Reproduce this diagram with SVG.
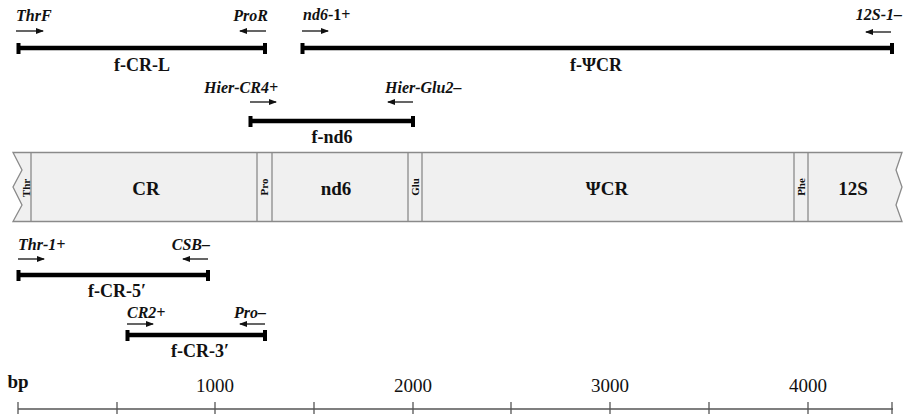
<svg xmlns="http://www.w3.org/2000/svg" width="903" height="414" viewBox="0 0 903 414">
<defs>
<marker id="ah" markerUnits="userSpaceOnUse" markerWidth="8" markerHeight="6" refX="7" refY="3" orient="auto">
<path d="M0,0 L8,3 L0,6 z" fill="#111"/>
</marker>
<style>
.bar{stroke:#000;stroke-width:4.5;fill:none}
.cap{fill:#000}
.arr{stroke:#111;stroke-width:1.3;fill:none;marker-end:url(#ah)}
.pr{font-family:"Liberation Serif",serif;font-weight:bold;font-style:italic;font-size:16px;fill:#111}
.up{font-style:normal}
.fr{font-family:"Liberation Serif",serif;font-weight:bold;font-size:18px;fill:#111;text-anchor:middle}
.bl{font-family:"Liberation Serif",serif;font-weight:bold;font-size:19px;fill:#111;text-anchor:middle}
.sm{font-family:"Liberation Serif",serif;font-weight:bold;font-size:11px;fill:#111;text-anchor:middle}
.num{font-family:"Liberation Serif",serif;font-size:19px;fill:#111;text-anchor:middle}
.band{fill:#f0f0f0;stroke:#8a8a8a;stroke-width:1.3}
.div{stroke:#8a8a8a;stroke-width:1.3}
.ax{stroke:#555;stroke-width:1.3}
</style>
</defs>
<g id="connectors">
<line class="arr" x1="16" y1="31" x2="43" y2="31"/>
<line class="arr" x1="266" y1="31" x2="240" y2="31"/>
<line class="arr" x1="302" y1="31" x2="328" y2="31"/>
<line class="arr" x1="891" y1="32" x2="866" y2="32"/>
<line class="arr" x1="250" y1="102" x2="276" y2="102"/>
<line class="arr" x1="413" y1="102" x2="388" y2="102"/>
<line class="arr" x1="18" y1="259" x2="44" y2="259"/>
<line class="arr" x1="208" y1="259" x2="183" y2="259"/>
<line class="arr" x1="127" y1="324" x2="153" y2="324"/>
<line class="arr" x1="265" y1="324" x2="240" y2="324"/>
</g>
<g id="f-CR-L">
<text class="pr" x="16" y="21">ThrF</text>
<text class="pr" x="268" y="21" text-anchor="end">ProR</text>
<line class="bar" x1="18" y1="48" x2="265" y2="48"/>
<rect class="cap" x="16.5" y="43" width="4" height="11"/>
<rect class="cap" x="263" y="43" width="4" height="11"/>
<text class="fr" x="142" y="71">f-CR-L</text>
</g>
<g id="f-PsiCR">
<text class="pr" x="303" y="20">nd6<tspan class="up">-1+</tspan></text>
<text class="pr" x="902" y="20" text-anchor="end">12S-1–</text>
<line class="bar" x1="302" y1="48" x2="892" y2="48"/>
<rect class="cap" x="300.5" y="43" width="4" height="11"/>
<rect class="cap" x="890" y="43" width="4" height="11"/>
<text class="fr" x="596" y="71">f-ΨCR</text>
</g>
<g id="f-nd6">
<text class="pr" x="278" y="93" text-anchor="end">Hier-CR4+</text>
<text class="pr" x="385" y="93">Hier-Glu2–</text>
<line class="bar" x1="250" y1="121" x2="413" y2="121"/>
<rect class="cap" x="248.5" y="116" width="4" height="11"/>
<rect class="cap" x="411" y="116" width="4" height="11"/>
<text class="fr" x="332" y="143">f-nd6</text>
</g>
<g id="genome">
<path class="band" d="M13,152.5 H902 L896,170 L902,187 L896,205 L902,221.5 H13 L22,205 L13,187 L22,170 Z"/>
<line class="div" x1="31" y1="152.5" x2="31" y2="221.5"/>
<line class="div" x1="257" y1="152.5" x2="257" y2="221.5"/>
<line class="div" x1="272" y1="152.5" x2="272" y2="221.5"/>
<line class="div" x1="408" y1="152.5" x2="408" y2="221.5"/>
<line class="div" x1="422" y1="152.5" x2="422" y2="221.5"/>
<line class="div" x1="794" y1="152.5" x2="794" y2="221.5"/>
<line class="div" x1="808" y1="152.5" x2="808" y2="221.5"/>
<text class="sm" transform="translate(29.5,188) rotate(-90)">Thr</text>
<text class="sm" transform="translate(268,187) rotate(-90)">Pro</text>
<text class="sm" transform="translate(419,187) rotate(-90)">Glu</text>
<text class="sm" transform="translate(805,187) rotate(-90)">Phe</text>
<text class="bl" x="146" y="195">CR</text>
<text class="bl" x="336" y="195">nd6</text>
<text class="bl" x="607" y="195">ΨCR</text>
<text class="bl" x="853" y="195">12S</text>
</g>
<g id="f-CR-5">
<text class="pr" x="18" y="250">Thr-1+</text>
<text class="pr" x="210" y="250" text-anchor="end">CSB–</text>
<line class="bar" x1="18" y1="275" x2="208" y2="275"/>
<rect class="cap" x="16.5" y="270" width="4" height="11"/>
<rect class="cap" x="206" y="270" width="4" height="11"/>
<text class="fr" x="117" y="297">f-CR-5′</text>
</g>
<g id="f-CR-3">
<text class="pr" x="127" y="318">CR2+</text>
<text class="pr" x="266" y="318" text-anchor="end">Pro–</text>
<line class="bar" x1="127" y1="335" x2="265" y2="335"/>
<rect class="cap" x="125.5" y="330" width="4" height="11"/>
<rect class="cap" x="263" y="330" width="4" height="11"/>
<text class="fr" x="200" y="357">f-CR-3′</text>
</g>
<g id="scale">
<text class="num" x="18" y="388" text-anchor="start" font-weight="bold">bp</text>
<text class="num" x="215" y="392">1000</text>
<text class="num" x="413" y="392">2000</text>
<text class="num" x="610" y="392">3000</text>
<text class="num" x="808" y="392">4000</text>
<line class="ax" x1="18" y1="409" x2="511" y2="409"/>
<line class="ax" x1="511" y1="409" x2="893" y2="409" stroke-width="2"/>
<g class="ax">
<line x1="18" y1="402" x2="18" y2="414"/>
<line x1="117" y1="402" x2="117" y2="414"/>
<line x1="215" y1="402" x2="215" y2="414"/>
<line x1="314" y1="402" x2="314" y2="414"/>
<line x1="413" y1="402" x2="413" y2="414"/>
<line x1="511" y1="402" x2="511" y2="414"/>
<line x1="610" y1="402" x2="610" y2="414"/>
<line x1="709" y1="402" x2="709" y2="414"/>
<line x1="808" y1="402" x2="808" y2="414"/>
<line x1="892" y1="402" x2="892" y2="414"/>
</g>
</g>
</svg>
